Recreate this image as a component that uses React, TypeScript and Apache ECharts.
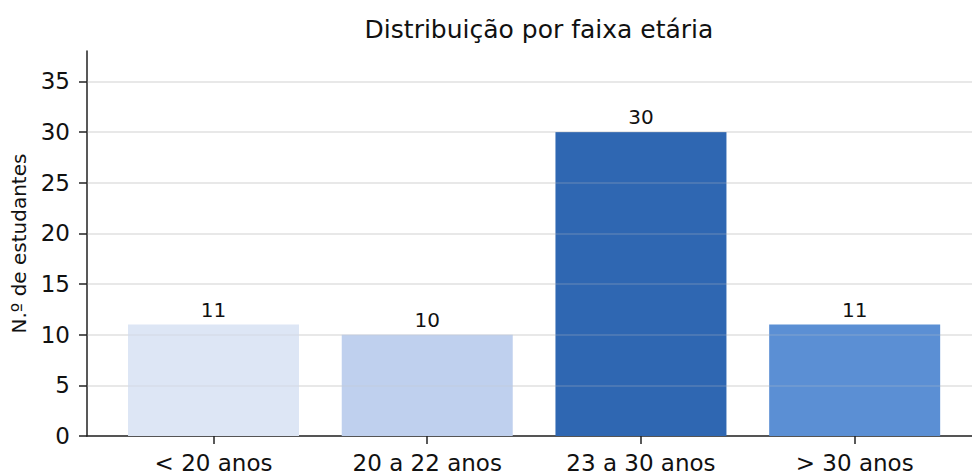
import React, { useEffect, useRef } from "react";
import * as echarts from "echarts";

const categories = ["< 20 anos", "20 a 22 anos", "23 a 30 anos", "> 30 anos"];
const values = [11, 10, 30, 11];
const colors = ["#dde6f5", "#bfd0ee", "#2f67b2", "#5b8fd4"];
const yTicks = [0, 5, 10, 15, 20, 25, 30, 35];

export default function App() {
  const ref = useRef<HTMLDivElement>(null);
  useEffect(() => {
    const chart = echarts.init(ref.current!, null, { renderer: "svg" });
    const font = "DejaVu Sans";
    chart.setOption({
      animation: false,
      backgroundColor: "#ffffff",
      textStyle: { fontFamily: font },
      title: {
        text: "Distribuição por faixa etária",
        left: 534,
        textAlign: "center",
        top: 12,
        textStyle: { fontFamily: font, fontSize: 25, fontWeight: "normal", color: "#111" },
      },
      grid: { left: 87, top: 51, bottom: 37, right: 0 },
      xAxis: {
        type: "value",
        min: -0.592,
        max: 3.549,
        splitLine: { show: false },
        axisLine: { lineStyle: { color: "#222", width: 1.5 } },
        axisTick: { show: true, length: 8, customValues: [0, 1, 2, 3], lineStyle: { color: "#222", width: 1.5 } },
        axisLabel: {
          customValues: [0, 1, 2, 3],
          formatter: (v: number) => categories[Math.round(v)] ?? "",
          fontSize: 23,
          color: "#111",
          margin: 15,
          fontFamily: font,
        },
      },
      yAxis: {
        type: "value",
        min: 0,
        max: 38,
        interval: 5,
        name: "N.º de estudantes",
        nameLocation: "middle",
        nameGap: 58,
        nameTextStyle: { fontSize: 20, color: "#111", fontFamily: font },
        axisLine: { show: true, onZero: false, lineStyle: { color: "#222", width: 1.5 } },
        axisTick: { show: true, length: 8, customValues: yTicks, lineStyle: { color: "#222", width: 1.5 } },
        axisLabel: { fontSize: 23, color: "#111", margin: 17, fontFamily: font, customValues: yTicks },
        splitLine: { show: true, lineStyle: { color: "#ebebeb", width: 1.5 } },
      },
      series: [
        {
          type: "bar",
          barWidth: 171,
          data: values.map((v, i) => ({ value: [i, v], itemStyle: { color: colors[i] } })),
          label: {
            show: true,
            position: "top",
            distance: 5,
            fontSize: 20,
            color: "#111",
            fontFamily: font,
            formatter: (p: any) => String(p.value[1]),
          },
          markLine: {
            silent: true,
            symbol: ["none", "none"],
            label: { show: false },
            lineStyle: { color: "rgba(200,200,200,0.25)", width: 1.5, type: "solid" },
            data: yTicks.filter((t) => t > 0).map((t) => ({ yAxis: t })),
          },
        },
      ],
    });
    return () => chart.dispose();
  }, []);
  return (
    <div
      ref={ref}
      style={{ position: "fixed", left: 0, top: 0, width: 972, height: 474 }}
    />
  );
}
